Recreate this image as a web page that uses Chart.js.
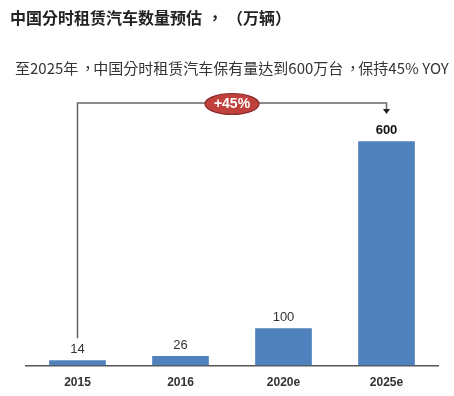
<!DOCTYPE html>
<html>
<head>
<meta charset="utf-8">
<script src="https://cdn.jsdelivr.net/npm/chart.js@4/dist/chart.umd.min.js"></script>
<style>
    html, body { margin: 0; padding: 0; background: #fff; }
    .wrap { position: relative; width: 454px; height: 396px; }
    .title, .subtitle { position: absolute; white-space: nowrap; font-family: "Noto Sans CJK TC", sans-serif; }
    .title { left: 10px; top: 5px; font-size: 16px; font-weight: bold; color: #222; }
    .subtitle { left: 15px; top: 57px; font-size: 15px; color: #333; }
    .title .p { position: relative; left: 5px; }
    .subtitle .p { position: relative; left: 2px; }
    .gap { margin-left: 17px; }
    canvas { position: absolute; left: 0; top: 0; }
</style>
</head>
<body>
<div class="wrap">
    <canvas id="chart" width="454" height="396"></canvas>
    <div class="title">中国分时租赁汽车数量预估<span class="p">，</span><span class="gap">（万辆）</span></div>
    <div class="subtitle">至2025年<span class="p">，</span>中国分时租赁汽车保有量达到600万台<span class="p">，</span>保持45% YOY</div>
</div>
<script>
// Data
const years = ['2015', '2016', '2020e', '2025e'];
const fleet = [14, 26, 100, 600];
const growthLabel = '+45%';

// Value labels above the bars
const valueLabels = {
    id: 'valueLabels',
    afterDatasetsDraw(chart) {
        const c = chart.ctx;
        const meta = chart.getDatasetMeta(0);
        c.save();
        c.textAlign = 'center';
        c.textBaseline = 'bottom';
        meta.data.forEach((bar, i) => {
            const last = i === fleet.length - 1;
            c.font = (last ? 'bold 13px' : '13px') + ' "Liberation Sans", Arial, sans-serif';
            c.fillStyle = last ? '#111' : '#333';
            c.fillText(fleet[i], bar.x, bar.y - 4);
        });
        c.restore();
    }
};

// Growth bracket from the first bar to the last one
const growthBracket = {
    id: 'growthBracket',
    afterDraw(chart) {
        const c = chart.ctx;
        const meta = chart.getDatasetMeta(0);
        const first = meta.data[0];
        const last = meta.data[meta.data.length - 1];
        const top = chart.chartArea.top - 1;
        c.save();
        c.strokeStyle = '#666';
        c.lineWidth = 1.5;
        c.beginPath();
        c.moveTo(first.x, first.y - 22);
        c.lineTo(first.x, top);
        c.lineTo(last.x, top);
        c.lineTo(last.x, top + 7);
        c.stroke();
        // arrow head
        c.fillStyle = '#222';
        c.beginPath();
        c.moveTo(last.x - 3.5, top + 6);
        c.lineTo(last.x + 3.5, top + 6);
        c.lineTo(last.x, top + 11);
        c.closePath();
        c.fill();
        // red badge
        const cx = (first.x + last.x) / 2;
        c.beginPath();
        c.ellipse(cx, top + 1, 27, 10.5, 0, 0, Math.PI * 2);
        c.fillStyle = '#c0403c';
        c.fill();
        c.strokeStyle = '#8a2a28';
        c.lineWidth = 1.2;
        c.stroke();
        c.fillStyle = '#fff';
        c.font = 'bold 14px "Liberation Sans", Arial, sans-serif';
        c.textAlign = 'center';
        c.textBaseline = 'middle';
        c.fillText(growthLabel, cx, top + 1.5);
        c.restore();
    }
};

new Chart(document.getElementById('chart'), {
    type: 'bar',
    data: {
        labels: years,
        datasets: [{
            data: fleet,
            backgroundColor: '#4f81bd',
            borderWidth: 0,
            barPercentage: 0.55,
            categoryPercentage: 1
        }]
    },
    options: {
        responsive: false,
        animation: false,
        layout: { padding: { top: 104, left: 26, right: 16, bottom: -4 } },
        plugins: {
            legend: { display: false },
            tooltip: { enabled: false }
        },
        scales: {
            x: {
                grid: { display: false, drawTicks: false },
                border: { color: '#555', width: 1.5 },
                ticks: {
                    color: '#333',
                    padding: 10,
                    font: { family: '"Liberation Sans", Arial, sans-serif', size: 12, weight: 'bold' }
                }
            },
            y: {
                display: false,
                min: 0,
                max: 700
            }
        }
    },
    plugins: [valueLabels, growthBracket]
});
</script>
</body>
</html>
